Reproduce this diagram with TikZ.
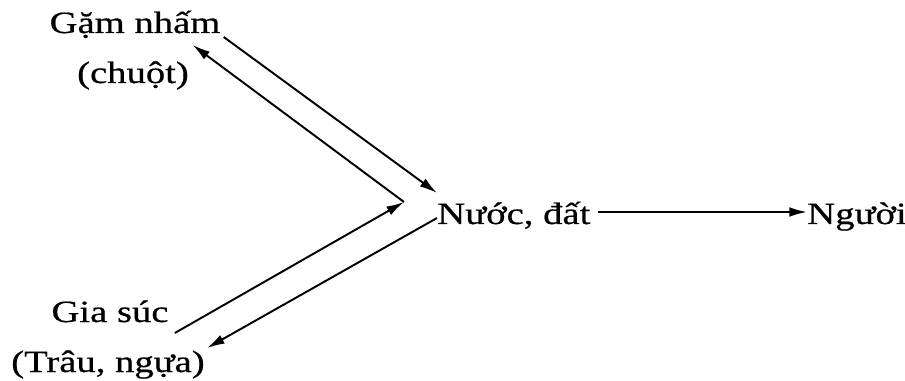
\documentclass[tikz,border=0pt]{standalone}
\usepackage{fontspec}
\usepackage{xcolor}
\usepackage{tikz}
\usetikzlibrary{arrows.meta}
\setmainfont{Liberation Serif}[FakeStretch=1.25,FakeBold=0.6]

\begin{document}
\begin{tikzpicture}[
        x=0.02cm,
        y=-0.02cm,
        nhan/.style={
            inner sep=0pt,
            font=\fontsize{17.6}{21}\selectfont
        },
        muiten/.style={
            line width=1.1pt,
            -{Latex[length=10pt,width=5.5pt]}
        }
    ]

        % Khung
        \useasboundingbox (0,0) rectangle (905,381);

        % =====================================================
        % NHAN
        % =====================================================

        % Gam nham
        \node[nhan, anchor=base] (gam) at (135,33) {Gặm nhấm};
        \node[nhan, anchor=base] (chuot) at (133,83) {(chuột)};

        % Gia suc
        \node[nhan, anchor=base] (giasuc) at (110,322) {Gia súc};
        \node[nhan, anchor=base] (trau) at (108,372) {(Trâu, ngựa)};

        % Nuoc, dat va Nguoi
        \node[nhan, anchor=base west] (nuoc) at (437,224) {Nước, đất};
        \node[nhan, anchor=base west] (nguoi) at (807,224) {Người};

        % Dinh
        \coordinate (dinh) at (404,202);

        % =====================================================
        % MUI TEN
        % =====================================================

        \draw[muiten] ([shift={(3,4)}]gam.base east) -- ([shift={(0,-31)}]nuoc.base west);
        \draw[muiten] (dinh) -- ([shift={(-28,12)}]gam.base east);

        \draw[muiten] ([shift={(6,11)}]giasuc.base east) -- (dinh);
        \draw[muiten] ([shift={(0,-6)}]nuoc.base west) -- ([shift={(2,-24)}]trau.base east);

        \draw[muiten] ([shift={(7,-12)}]nuoc.base east) -- ([shift={(0,-12)}]nguoi.base west);

\end{tikzpicture}
\end{document}
